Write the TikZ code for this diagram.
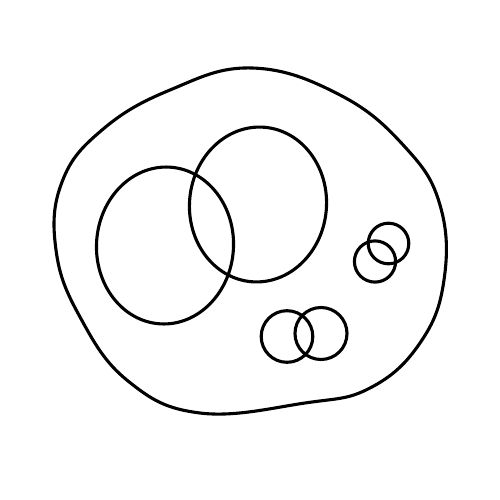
\documentclass[tikz,border=0pt]{standalone}
\begin{document}
\begin{tikzpicture}[x=1pt,y=-1pt,
  outline/.style={draw=black,line width=3.1pt,line join=round}]
\useasboundingbox (0,0) rectangle (500,500);
\fill[white] (0,0) rectangle (500,500);
% outer blob
\draw[outline] plot[smooth cycle,tension=0.7] coordinates{
 (252,68) (340,95) (405,147) (440,205) (444,280) (420,343) (370,388)
 (305,403) (200,413) (128,381) (80,317) (56,250) (62,182) (102,130)
 (170,90)};
% big ellipses
\draw[outline,rotate around={-3.5:(165,245.5)}] (165,245.5) ellipse [x radius=68.5, y radius=78.5];
\draw[outline,rotate around={-5:(258,204.5)}] (258,204.5) ellipse [x radius=68.5, y radius=77.5];
% small pair right
\draw[outline] (388.5,243.5) circle [radius=20.3];
\draw[outline] (375,261.5) circle [radius=20.6];
% bottom pair
\draw[outline] (287,336.5) circle [radius=25.8];
\draw[outline] (321,333.5) circle [radius=26];
\end{tikzpicture}
\end{document}
